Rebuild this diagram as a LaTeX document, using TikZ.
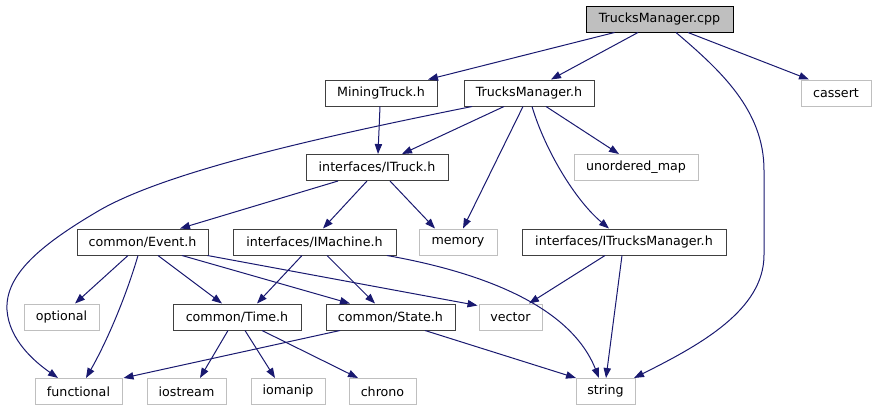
\documentclass[tikz,border=0pt]{standalone}
\usepackage{fontspec}
\setmainfont{DejaVu Sans}
\usetikzlibrary{arrows.meta,calc}
\definecolor{edgec}{RGB}{25,25,112}
\definecolor{extc}{RGB}{191,191,191}

\begin{document}
\begin{tikzpicture}[
  x=0.75pt, y=-0.75pt,
  font=\fontsize{9.5}{11}\selectfont,
  >={Triangle[length=7.5pt,width=5.5pt]},
  file/.style={draw=black!75, line width=0.75pt, fill=white, minimum height=19.5pt, inner sep=0pt},
  sys/.style={file, draw=extc},
  root/.style={file, draw=black, fill=extc},
  w/.style={minimum width=#1*0.75pt},
  dep/.style={->, edgec, line width=0.75pt},
]
\useasboundingbox (0,0) rectangle (876,411);
% files, one row per include level
\node[root, w=147] (cpp) at (659.5,19) {TrucksManager.cpp};
\node[file, w=112] (mtruck) at (381,93) {MiningTruck.h};
\node[file, w=130] (tmh) at (529,93) {TrucksManager.h};
\node[sys, w=70] (cassert) at (836,93) {cassert};
\node[file, w=142] (itruck) at (377,167.5) {interfaces/ITruck.h};
\node[sys, w=124] (umap) at (636,167.5) {unordered\_map};
\node[file, w=131] (event) at (142.5,242) {common/Event.h};
\node[file, w=163] (imach) at (314.5,242) {interfaces/IMachine.h};
\node[sys, w=78] (memory) at (458,242) {memory};
\node[file, w=204] (itm) at (624,242) {interfaces/ITrucksManager.h};
\node[sys, w=75] (optional) at (61.5,317) {optional};
\node[file, w=128] (timeh) at (237,317) {common/Time.h};
\node[file, w=129] (state) at (390.5,317) {common/State.h};
\node[sys, w=63] (vector) at (510.5,317) {vector};
\node[sys, w=87] (functional) at (78.5,391.5) {functional};
\node[sys, w=79] (iostream) at (186.5,391.5) {iostream};
\node[sys, w=74] (iomanip) at (288,391.5) {iomanip};
\node[sys, w=67] (chrono) at (382.5,391.5) {chrono};
\node[sys, w=59] (string) at (605.5,391.5) {string};
% straight includes
\foreach \a/\da/\b/\db in {cpp/-45/mtruck/47, cpp/-21.5/tmh/22, cpp/28.5/cassert/-27,
    mtruck/-1/itruck/1, tmh/-25/itruck/25, tmh/-6/memory/5, tmh/17/umap/-17,
    itruck/-39/event/37.5, itruck/-10/imach/8.5, itruck/13/memory/-23,
    event/-14.5/optional/13.5, event/15.5/timeh/-15, event/39.5/state/-40.5,
    imach/-12.5/timeh/20, imach/12.5/state/-15.5, itm/-19/vector/18.5, itm/-2/string/0.5,
    timeh/-9/iostream/13.5, timeh/8/iomanip/-13, timeh/25/chrono/-24.5,
    state/34.5/string/-29.5, state/-50.5/functional/45}
  \draw[dep] ($(\a.south)+(\da,0)$) -- ($(\b.north)+(\db,0)$);
\draw[dep] ($(event.south east)+(-1,0)$) -- ($(vector.north west)+(-1,2)$);
% curved includes
\draw[dep] ($(event.south)+(-4.5,0)$) .. controls (125,300) and (105,345) .. ($(functional.north)+(7.5,0)$);
\draw[dep] ($(cpp.south)+(16.5,0)$) .. controls (720,70) and (764,110) .. (764,170) -- (764,255)
  .. controls (764,310) and (700,345) .. ($(string.north)+(28.5,0)$);
\draw[dep] ($(tmh.south)+(-57,0)$) .. controls (330,135) and (170,170) .. (100,210)
  .. controls (40,245) and (5,275) .. (7,310) .. controls (9,340) and (35,362) .. ($(functional.north)+(-20.5,0)$);
\draw[dep] ($(tmh.south)+(3,0)$) .. controls (545,150) and (575,200) .. ($(itm.north)+(-15,0)$);
\draw[dep] ($(imach.south)+(72.5,0)$) .. controls (480,272) and (570,305) .. ($(string.north)+(-6.5,0)$);
\end{tikzpicture}
\end{document}
